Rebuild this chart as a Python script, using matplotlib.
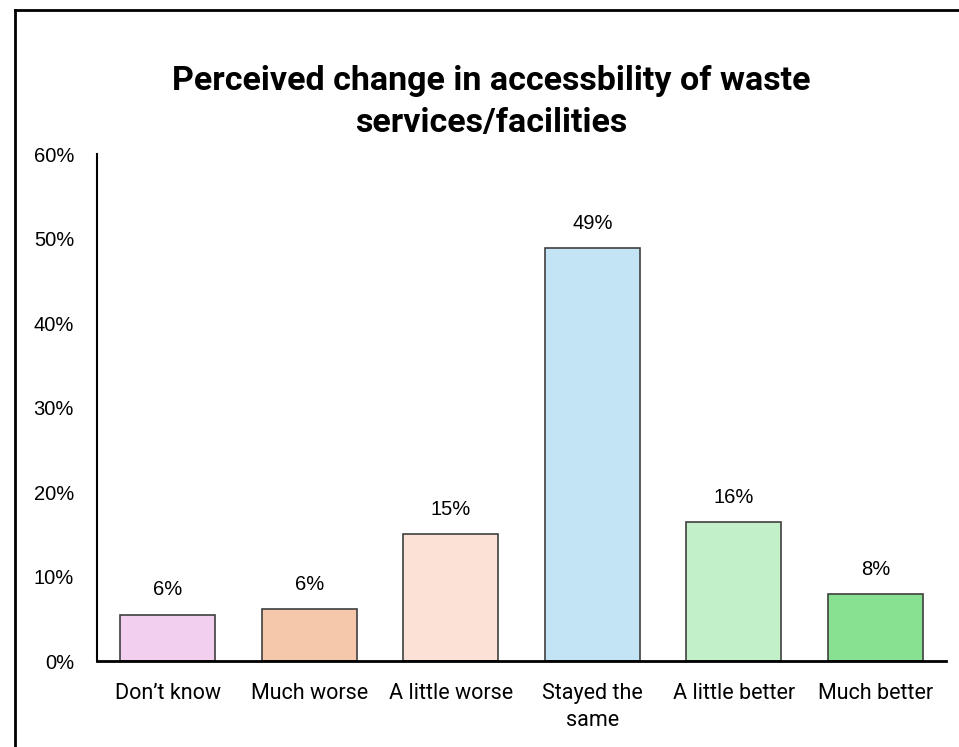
import matplotlib.pyplot as plt
from matplotlib.lines import Line2D
from matplotlib.ticker import PercentFormatter

# Survey responses (share of respondents, %)
categories = ["Don\u2019t know", "Much worse", "A little worse",
              "Stayed the\nsame", "A little better", "Much better"]
shares = [5.5, 6.1, 15.0, 48.9, 16.4, 7.9]
labels = ["6%", "6%", "15%", "49%", "16%", "8%"]
colors = ["#f2cfee", "#f5c7ab", "#fce2d6", "#c2e4f4", "#c2f0c8", "#87e190"]

fig = plt.figure(figsize=(9.59, 7.47), dpi=100)
ax = fig.add_axes([0.1011, 0.1151, 0.8854, 0.6787])

x = range(len(categories))
bars = ax.bar(x, shares, width=0.67, color=colors, edgecolor="#404040", linewidth=1.2)

for b, lab in zip(bars, labels):
    ax.annotate(lab, (b.get_x() + b.get_width() / 2, b.get_height()),
                xytext=(0, 11), textcoords="offset points",
                ha="center", va="bottom", fontsize=14.5, family="Liberation Sans")

ax.set_xlim(-0.5, len(categories) - 0.5)
ax.set_ylim(0, 60)
ax.set_yticks(range(0, 61, 10))
ax.yaxis.set_major_formatter(PercentFormatter(decimals=0))
ax.tick_params(axis="y", length=0, pad=16.5, labelsize=14.5)
ax.tick_params(axis="x", length=0, pad=15.5)
for t in ax.get_yticklabels():
    t.set_family("Liberation Sans")
ax.set_xticks(list(x))
ax.set_xticklabels(categories, fontsize=15.5, family="Roboto", linespacing=1.4)

ax.spines["top"].set_visible(False)
ax.spines["right"].set_visible(False)
ax.spines["left"].set_linewidth(1.5)
ax.spines["bottom"].set_linewidth(2)

fig.text(0.512, 0.864, "Perceived change in accessbility of waste\nservices/facilities",
         ha="center", va="center", fontsize=24.5, fontweight="bold",
         family="Roboto", linespacing=1.4)

# frame around the chart area (only left and top edges are within the canvas)
fig.add_artist(Line2D([0.0157, 0.0157], [0, 1 - 10 / 747], transform=fig.transFigure,
                      color="black", linewidth=2))
fig.add_artist(Line2D([0.0157, 1], [1 - 10 / 747, 1 - 10 / 747], transform=fig.transFigure,
                      color="black", linewidth=2))

fig.savefig("out.png", dpi=100)
